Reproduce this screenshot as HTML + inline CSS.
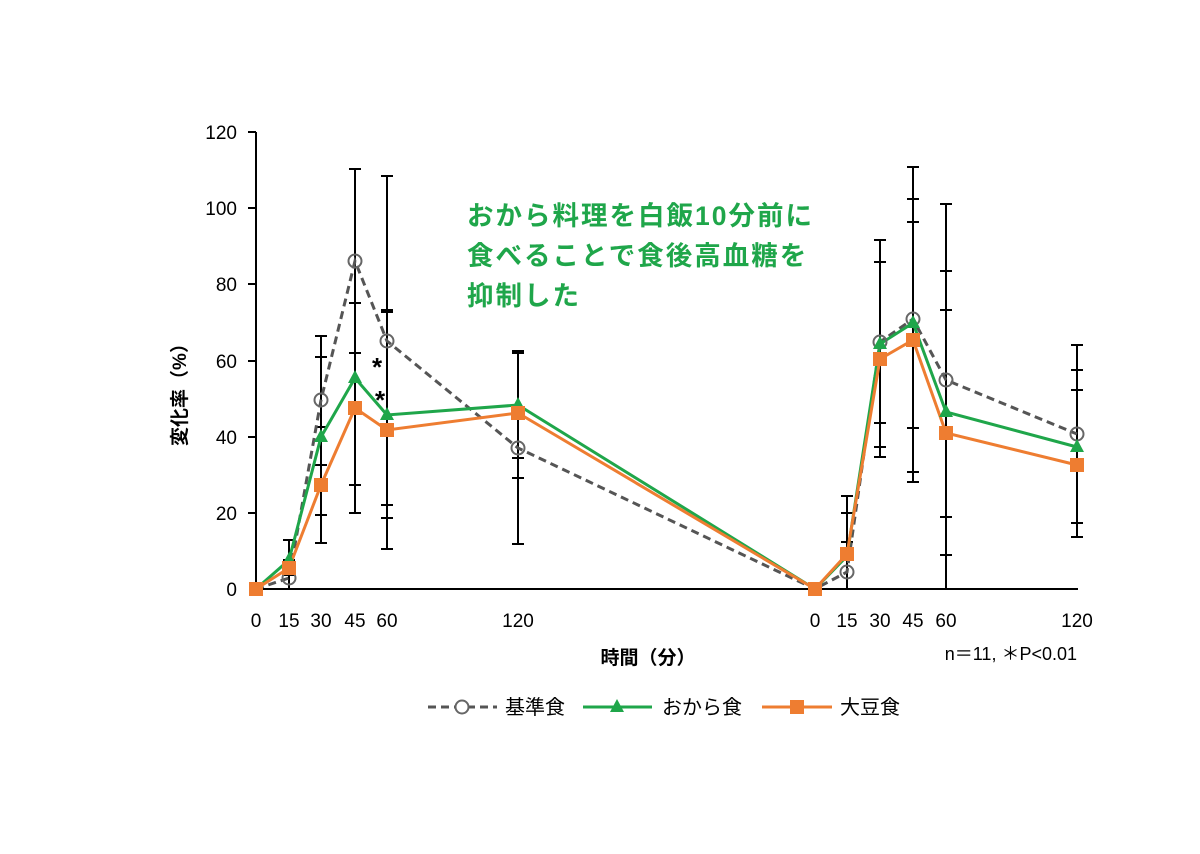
<!DOCTYPE html>
<html><head><meta charset="utf-8"><style>
body{margin:0;background:#fff}
text{font-family:"Liberation Sans","Noto Sans CJK JP",sans-serif}
</style></head><body>
<svg width="1200" height="849" viewBox="0 0 1200 849" xmlns="http://www.w3.org/2000/svg">
<rect width="1200" height="849" fill="#fff"/>
<g stroke="#000" stroke-width="2">
<line x1="256" y1="132" x2="256" y2="590"/>
<line x1="248" y1="132" x2="256" y2="132"/>
<line x1="248" y1="208" x2="256" y2="208"/>
<line x1="248" y1="284" x2="256" y2="284"/>
<line x1="248" y1="361" x2="256" y2="361"/>
<line x1="248" y1="437" x2="256" y2="437"/>
<line x1="248" y1="513" x2="256" y2="513"/>
<line x1="256" y1="589" x2="1078" y2="589"/>
</g>
<g stroke="#000" stroke-width="2" id="xt"></g>
<g font-size="19" fill="#000" text-anchor="end">
<text x="237" y="139">120</text><text x="237" y="215">100</text><text x="237" y="291">80</text>
<text x="237" y="368">60</text><text x="237" y="444">40</text><text x="237" y="520">20</text><text x="237" y="596">0</text>
</g>
<text transform="translate(186,390) rotate(-90)" font-size="19" font-weight="bold" text-anchor="middle">変化率（%）</text>
<g font-size="19" text-anchor="middle">
<text x="256" y="627">0</text><text x="289" y="627">15</text><text x="321" y="627">30</text><text x="355" y="627">45</text><text x="387" y="627">60</text><text x="518" y="627">120</text>
<text x="815" y="627">0</text><text x="847" y="627">15</text><text x="880" y="627">30</text><text x="913" y="627">45</text><text x="946" y="627">60</text><text x="1077" y="627">120</text>
</g>
<text x="648" y="664" font-size="19" font-weight="bold" text-anchor="middle">時間（分）</text>
<text x="1077" y="660" font-size="18" text-anchor="end">n＝11, ＊P&lt;0.01</text>
<g stroke="#000" stroke-width="2" fill="none">
<path d="M289 540V590M283 540h12M283 560h12M283 575h12"/>
<path d="M321 336V543M315 336h12M315 357h12M315 427h12M315 465h12M315 515h12M315 543h12"/>
<path d="M355 169V513M349 169h12M349 303h12M349 353h12M349 485h12M349 513h12"/>
<path d="M387 176V549M381 176h12M381 505h12M381 518h12M381 549h12"/>
<path d="M518 352V544M512 458h12M512 478h12M512 544h12"/>
<path d="M847 496V589M841 496h12M841 513h12M841 542h12"/>
<path d="M880 240V457M874 240h12M874 262h12M874 423h12M874 447h12M874 457h12"/>
<path d="M913 167V482M907 167h12M907 199h12M907 222h12M907 428h12M907 472h12M907 482h12"/>
<path d="M946 204V589M940 204h12M940 271h12M940 310h12M940 517h12M940 555h12"/>
<path d="M1077 345V537M1071 345h12M1071 370h12M1071 390h12M1071 523h12M1071 537h12"/>
</g>
<g stroke="#000" stroke-width="4"><path d="M381 311h12M512 352h12"/></g>
<g font-size="26" font-weight="bold"><text x="372" y="376">*</text><text x="375" y="409">*</text></g>
<polyline fill="none" stroke="#555" stroke-width="3" stroke-dasharray="8,5" points="256,589 289,578 321,400 355,261 387,341 518,448 815,589 847,572 880,342 913,319 946,380 1077,434"/>
<polyline fill="none" stroke="#1fa64a" stroke-width="3" points="256,589 289,560 321,437 355,378 387,415 518,405 815,589 847,556 880,344 913,323 946,412 1077,447"/>
<polyline fill="none" stroke="#ee7d31" stroke-width="3" points="256,589 289,568 321,485 355,408 387,430 518,413 815,589 847,554 880,359 913,340 946,433 1077,465"/>
<g fill="none" stroke="#666" stroke-width="2">
<circle cx="289" cy="578" r="6.5"/><circle cx="321" cy="400" r="6.5"/><circle cx="355" cy="261" r="6.5"/><circle cx="387" cy="341" r="6.5"/><circle cx="518" cy="448" r="6.5"/><circle cx="847" cy="572" r="6.5"/><circle cx="880" cy="342" r="6.5"/><circle cx="913" cy="319" r="6.5"/><circle cx="946" cy="380" r="6.5"/><circle cx="1077" cy="434" r="6.5"/>
</g>
<g fill="#1fa64a">
<path d="M289 552l7 13h-14z"/><path d="M321 429l7 13h-14z"/><path d="M355 370l7 13h-14z"/><path d="M387 407l7 13h-14z"/><path d="M518 397l7 13h-14z"/><path d="M847 548l7 13h-14z"/><path d="M880 336l7 13h-14z"/><path d="M913 315l7 13h-14z"/><path d="M946 404l7 13h-14z"/><path d="M1077 439l7 13h-14z"/>
</g>
<g fill="#ee7d31">
<rect x="249" y="582" width="14" height="14"/><rect x="282" y="561" width="14" height="14"/><rect x="314" y="478" width="14" height="14"/><rect x="348" y="401" width="14" height="14"/><rect x="380" y="423" width="14" height="14"/><rect x="511" y="406" width="14" height="14"/><rect x="808" y="582" width="14" height="14"/><rect x="840" y="547" width="14" height="14"/><rect x="873" y="352" width="14" height="14"/><rect x="906" y="333" width="14" height="14"/><rect x="939" y="426" width="14" height="14"/><rect x="1070" y="458" width="14" height="14"/>
</g>
<g fill="#1fa64a" font-size="26.5" font-weight="bold" letter-spacing="2">
<text x="467" y="225">おから料理を白飯10分前に</text>
<text x="467" y="265">食べることで食後高血糖を</text>
<text x="467" y="305">抑制した</text>
</g>
<line x1="428" y1="707" x2="497" y2="707" stroke="#555" stroke-width="3" stroke-dasharray="8,5"/>
<circle cx="462" cy="707" r="6.5" fill="#fff" stroke="#666" stroke-width="2"/>
<text x="505" y="714" font-size="20">基準食</text>
<line x1="583" y1="707" x2="652" y2="707" stroke="#1fa64a" stroke-width="3"/>
<path d="M617 699l7 13h-14z" fill="#1fa64a"/>
<text x="662" y="714" font-size="20">おから食</text>
<line x1="762" y1="707" x2="832" y2="707" stroke="#ee7d31" stroke-width="3"/>
<rect x="790" y="700" width="14" height="14" fill="#ee7d31"/>
<text x="840" y="714" font-size="20">大豆食</text>
<script>
var g=document.getElementById('xt'),s='';
for(var i=0;i<=25;i++){var x=256+i*(1077-256)/25;s+='<line x1="'+x+'" y1="589" x2="'+x+'" y2="597"/>';}
g.innerHTML=s;
</script>
</svg>
</body></html>
